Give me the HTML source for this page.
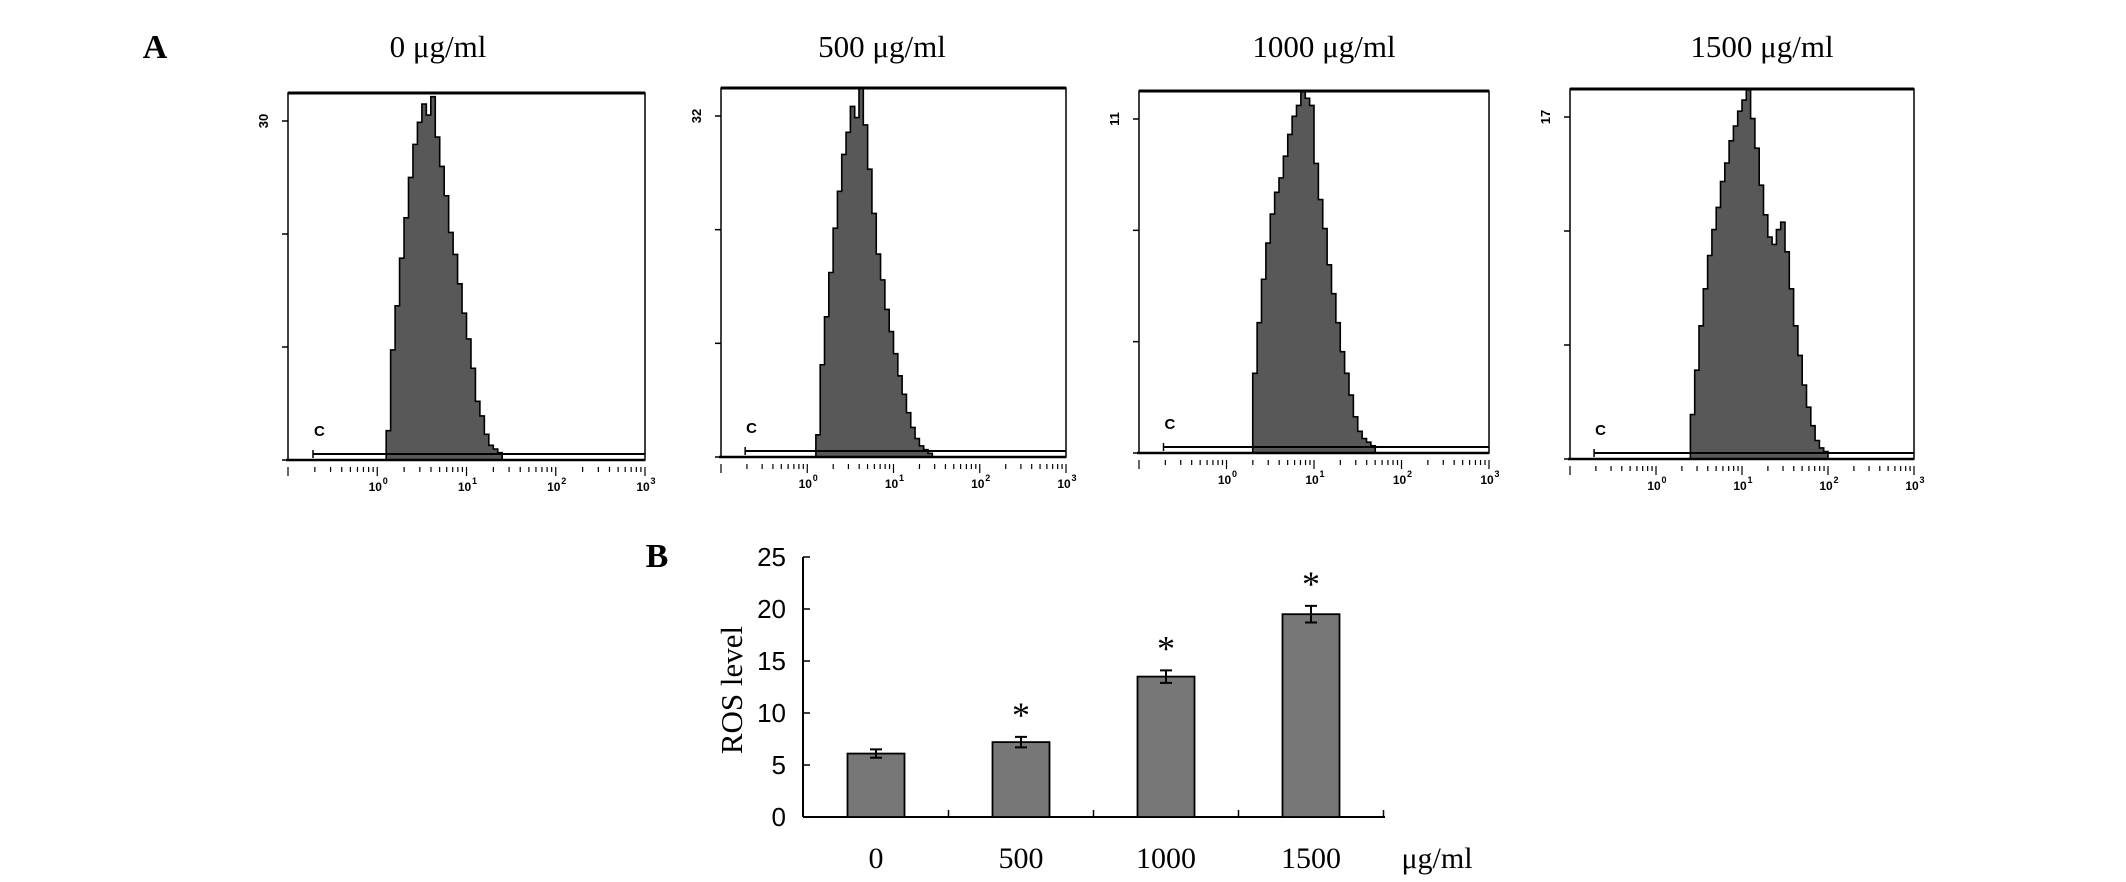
<!DOCTYPE html>
<html><head><meta charset="utf-8"><style>
html,body{margin:0;padding:0;background:#fff;}
svg{display:block;}
.serif{font-family:"Liberation Serif",serif;}
.sans{font-family:"Liberation Sans",sans-serif;}
</style></head><body>
<svg id="fig" width="2126" height="882" viewBox="0 0 2126 882" xmlns="http://www.w3.org/2000/svg">
<text x="155" y="58" class="serif" font-size="34" font-weight="bold" text-anchor="middle">A</text>
<text x="657" y="567" class="serif" font-size="34" font-weight="bold" text-anchor="middle">B</text>
<g id="panelA"></g>
<g id="panelB"></g>
</svg>
<script>
// ---------- Panel A data ----------
const histTitles = ["0 μg/ml", "500 μg/ml", "1000 μg/ml", "1500 μg/ml"];
const histYMaxLabels = ["30", "32", "11", "17"];
const histStartLog = [0.10, 0.10, 0.30, 0.40];
const histBinWidth = 0.05;
const hist0 = [8,30,42,55,66,77,86,92,97,94,99,88,80,72,62,56,48,40,33,25,16,12,7,4,3,2];
const hist500 = [6,25,38,50,62,72,82,88,95,92,100,90,78,66,55,48,40,34,28,22,17,12,8,5,3,2,1];
const hist1000 = [22,36,48,58,66,72,76,82,88,93,96,100,98,96,80,70,62,52,44,36,28,22,16,10,6,4,3,2];
const hist1500 = [12,24,36,46,55,62,68,75,80,86,90,94,97,100,92,84,74,66,60,58,62,64,56,46,36,28,20,14,9,5,3,2];
const histSeries = [hist0, hist500, hist1000, hist1500];
const decadeLabels = ["0","1","2","3"];

// ---------- Panel B data ----------
const barCategories = ["0", "500", "1000", "1500"];
const barValues = [6.1, 7.2, 13.5, 19.5];
const barErrors = [0.4, 0.5, 0.6, 0.8];
const barSignificant = [false, true, true, true];
const yTickValues = [0, 5, 10, 15, 20, 25];

const NS = "http://www.w3.org/2000/svg";
function mk(tag, attrs, parent){ const e=document.createElementNS(NS,tag); for(const k in attrs) e.setAttribute(k,attrs[k]); parent.appendChild(e); return e; }

// ---------- Draw panel A ----------
const boxes = [
  {x0:288,x1:645,y0:93,y1:460,tx:438},
  {x0:721,x1:1066,y0:88,y1:457,tx:882},
  {x0:1139,x1:1489,y0:91,y1:453,tx:1324},
  {x0:1570,x1:1914,y0:89,y1:459,tx:1762}
];
const pA = document.getElementById('panelA');
boxes.forEach((b,i)=>{
  const g = mk('g',{},pA);
  
  
  const xs = v => b.x0 + (v+1)/4*(b.x1-b.x0);
  const ys = v => b.y1 - v/100*(b.y1-b.y0);
  const t = mk('text',{x:b.tx,y:57,class:'serif','font-size':31,'text-anchor':'middle'},g);
  t.textContent = histTitles[i];
  
  
  const data = histSeries[i];
  let d = 'M'+xs(histStartLog[i])+','+b.y1;
  data.forEach((v,j)=>{
    const xa = xs(histStartLog[i]+j*histBinWidth), xb = xs(histStartLog[i]+(j+1)*histBinWidth);
    d += ' L'+xa+','+ys(v)+' L'+xb+','+ys(v);
  });
  d += ' L'+xs(histStartLog[i]+data.length*histBinWidth)+','+b.y1+' Z';
  const p = mk('path',{d:d,fill:'#585858',stroke:'#000','stroke-width':1.6},g);
  
  
  const r = mk('rect',{x:b.x0,y:b.y0,width:b.x1-b.x0,height:b.y1-b.y0,fill:'none',stroke:'#000','stroke-width':1.5},g);
  
  
  mk('line',{x1:b.x0,x2:b.x1,y1:b.y0,y2:b.y0,stroke:'#000','stroke-width':3},g);
  mk('line',{x1:b.x0-2,x2:b.x1,y1:b.y1,y2:b.y1,stroke:'#000','stroke-width':2.5},g);
  const gy = b.y1-6;
  const gl = mk('line',{x1:xs(-0.72),x2:b.x1,y1:gy,y2:gy,stroke:'#000','stroke-width':2},g);
  
  
  mk('line',{x1:xs(-0.72),x2:xs(-0.72),y1:gy-4,y2:gy+4,stroke:'#000','stroke-width':1.5},g);
  const c = mk('text',{x:xs(-0.72)+1,y:b.y1-24,class:'sans','font-size':15,'font-weight':'bold'},g);
  c.textContent='C';
  
  
  for(let dec=-1; dec<3; dec++){
    for(let m=1;m<10;m++){
      const lx = xs(dec+Math.log10(m));
      mk('line',{x1:lx,x2:lx,y1:b.y1+7,y2:b.y1+(m===1?16:12),stroke:'#000','stroke-width':1.2},g);
    }
  }
  mk('line',{x1:b.x1,x2:b.x1,y1:b.y1+7,y2:b.y1+16,stroke:'#000','stroke-width':1.2},g);
  decadeLabels.forEach((lab,k)=>{
    const tx = mk('text',{x:xs(k)-2,y:b.y1+31,class:'sans','font-size':12,'font-weight':'bold','text-anchor':'middle'},g);
    tx.textContent='10';
    
    
    const sup = mk('text',{x:xs(k)+8,y:b.y1+24,class:'sans','font-size':9,'font-weight':'bold','text-anchor':'middle'},g);
    sup.textContent=lab;
  });
  for(let q=0;q<=3;q++){
    const yy = b.y1 - q*(b.y1-b.y0-28)/3;
    mk('line',{x1:b.x0-6,x2:b.x0,y1:yy,y2:yy,stroke:'#000','stroke-width':1.5},g);
  }
  const yl = mk('text',{x:0,y:0,class:'sans','font-size':13,'font-weight':'bold','text-anchor':'middle',transform:'translate('+(b.x0-20)+','+(b.y0+28)+') rotate(-90)'},g);
  yl.textContent = histYMaxLabels[i];
  
  
});

// ---------- Draw panel B ----------
const pB = document.getElementById('panelB');
const ax = {x0:803, x1:1385, y0:817, yTop:557, vmax:25};
const yS = v => ax.y0 - v/ax.vmax*(ax.y0-ax.yTop);
const xS = i => 876 + i*145;
const bw = 57;
const yAxis = mk('line',{x1:ax.x0,x2:ax.x0,y1:ax.yTop,y2:ax.y0,stroke:'#000','stroke-width':2},pB);


const xAxis = mk('line',{x1:ax.x0,x2:ax.x1,y1:ax.y0,y2:ax.y0,stroke:'#000','stroke-width':2},pB);


yTickValues.forEach(v=>{
  mk('line',{x1:ax.x0,x2:ax.x0+7,y1:yS(v),y2:yS(v),stroke:'#000','stroke-width':1.5},pB);
  const t = mk('text',{x:786,y:yS(v)+9,class:'sans','font-size':26,'text-anchor':'end'},pB);
  t.textContent = String(v);
  
  
});
for(let i=1;i<=barCategories.length;i++){
  const tx = xS(i)-72.5;
  mk('line',{x1:tx,x2:tx,y1:ax.y0-7,y2:ax.y0,stroke:'#000','stroke-width':1.5},pB);
}
const yt = mk('text',{x:0,y:0,class:'serif','font-size':31,'text-anchor':'middle',transform:'translate(742,690) rotate(-90)'},pB);
yt.textContent='ROS level';


barCategories.forEach((cat,i)=>{
  const cx = xS(i);
  const r = mk('rect',{x:cx-bw/2,y:yS(barValues[i]),width:bw,height:ax.y0-yS(barValues[i]),fill:'#777',stroke:'#000','stroke-width':1.8},pB);
  
  
  const hi = yS(barValues[i]+barErrors[i]), lo = yS(barValues[i]-barErrors[i]);
  const e = mk('path',{d:'M'+cx+','+hi+' V'+lo+' M'+(cx-6)+','+hi+' H'+(cx+6)+' M'+(cx-6)+','+lo+' H'+(cx+6),stroke:'#000','stroke-width':2,fill:'none'},pB);
  
  
  const t = mk('text',{x:cx,y:868,class:'serif','font-size':30,'text-anchor':'middle'},pB);
  t.textContent=cat;
  
  
  if(barSignificant[i]){
    const s = mk('text',{x:cx,y:hi-10,class:'serif','font-size':36,'text-anchor':'middle'},pB);
    s.textContent='*';
    
    
  }
});
const unit = mk('text',{x:1437,y:868,class:'serif','font-size':30,'text-anchor':'middle'},pB);
unit.textContent='μg/ml';


</script>
</body></html>
